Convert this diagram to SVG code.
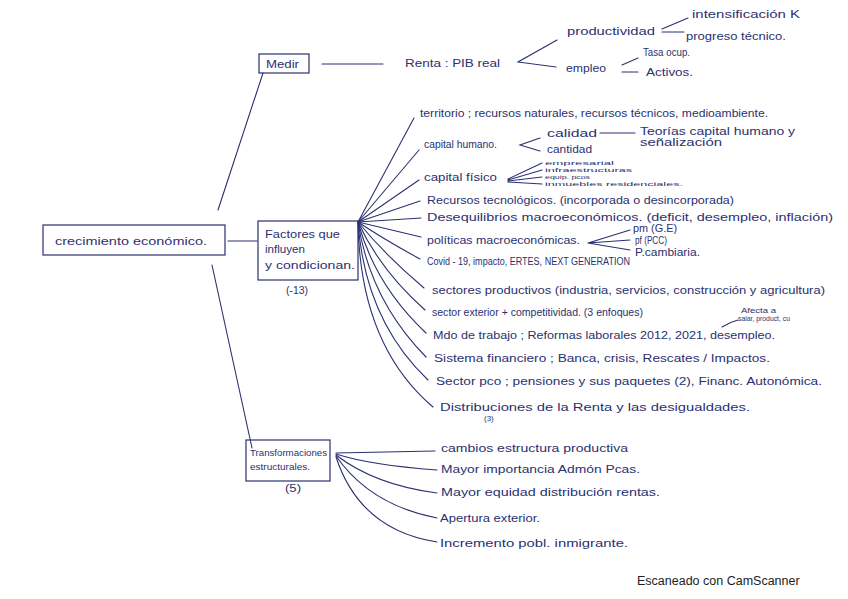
<svg xmlns="http://www.w3.org/2000/svg" width="848" height="599" viewBox="0 0 848 599">
<style>
.t{font-family:"Liberation Sans",Arial,sans-serif;font-size:10px;fill:#2b3170}
.s{font-family:"Liberation Sans",Arial,sans-serif;font-size:6.2px;fill:#2b3170}
.b{fill:none;stroke:#2b3170;stroke-width:1.2}
.c{fill:none;stroke:#2b3170;stroke-width:1.1;stroke-linecap:round}
.cs{font-family:"Liberation Sans",Arial,sans-serif;font-size:12.5px;fill:#222}
</style>
<rect width="848" height="599" fill="#fff"/>

<g id="connectors">
  <path class="c" d="M322,64 L383,64"/>
  <path class="c" d="M557,40 L518,62 L556,67"/>
  <path class="c" d="M688,18 L662,29 M662,32 L684,32"/>
  <path class="c" d="M622,65 L638,58 M622,72 L638,72"/>
  <path class="c" d="M263,73 L218,210"/>
  <path class="c" d="M212,265 L252,448"/>
  <path class="c" d="M228,241 L257,241"/>
  <path class="c" d="M358,222 L414,118"/>
  <path class="c" d="M358,222 L419,150"/>
  <path class="c" d="M358,222 L419,180"/>
  <path class="c" d="M358,222 L420,201"/>
  <path class="c" d="M358,222 L421,218"/>
  <path class="c" d="M358,222 L421,237"/>
  <path class="c" d="M358,222 Q385,240 420,259"/>
  <path class="c" d="M358,222 Q385,255 424,288"/>
  <path class="c" d="M358,222 Q380,270 425,310"/>
  <path class="c" d="M358,222 Q375,285 426,333"/>
  <path class="c" d="M358,222 Q370,300 426,357"/>
  <path class="c" d="M358,222 Q365,320 428,380"/>
  <path class="c" d="M358,222 Q360,345 433,407"/>
  <path class="c" d="M540,138 L520,145 L540,151"/>
  <path class="c" d="M600,133 L635,133"/>
  <path class="c" d="M542,163 L508,179 M542,170 L508,180 M542,177 L508,181 M542,184 L508,182"/>
  <path class="c" d="M630,230 L588,243 M630,240 L588,243 M630,250 L588,243"/>
  <path class="c" d="M722,327 Q730,322 738,320"/>
  <path class="c" d="M336,453 L435,451"/>
  <path class="c" d="M336,454 Q370,465 437,470"/>
  <path class="c" d="M336,455 Q375,485 437,493"/>
  <path class="c" d="M336,456 Q370,505 437,518"/>
  <path class="c" d="M336,457 Q360,530 437,542"/>
</g>

<g id="medir">
  <rect class="b" x="259" y="54" width="50" height="19"/>
  <text class="t" x="266" y="68" textLength="33" lengthAdjust="spacingAndGlyphs">Medir</text>
</g>
<g id="renta">
  <text class="t" x="405" y="67" textLength="95" lengthAdjust="spacingAndGlyphs">Renta : PIB real</text>
</g>
<g id="productividad">
  <text class="t" x="567" y="35" textLength="88" lengthAdjust="spacingAndGlyphs">productividad</text>
  <text class="t" x="692" y="18" textLength="108" lengthAdjust="spacingAndGlyphs">intensificación K</text>
  <text class="t" x="686" y="40" textLength="100" lengthAdjust="spacingAndGlyphs">progreso técnico.</text>
</g>
<g id="empleo">
  <text class="t" x="566" y="72" textLength="40" lengthAdjust="spacingAndGlyphs">empleo</text>
  <text class="t" x="643" y="56" textLength="47" lengthAdjust="spacingAndGlyphs">Tasa ocup.</text>
  <text class="t" x="646" y="76" textLength="47" lengthAdjust="spacingAndGlyphs">Activos.</text>
</g>

<g id="crecimiento">
  <rect class="b" x="43" y="225" width="182" height="30"/>
  <text class="t" x="55" y="245" style="font-size:11px" textLength="152" lengthAdjust="spacingAndGlyphs">crecimiento económico.</text>
</g>

<g id="factores">
  <rect class="b" x="258" y="221" width="100" height="59"/>
  <text class="t" x="265" y="238" textLength="75" lengthAdjust="spacingAndGlyphs">Factores que</text>
  <text class="t" x="265" y="253" textLength="40" lengthAdjust="spacingAndGlyphs">influyen</text>
  <text class="t" x="265" y="269" textLength="90" lengthAdjust="spacingAndGlyphs">y condicionan.</text>
  <text class="t" x="286" y="294" textLength="22" lengthAdjust="spacingAndGlyphs">(-13)</text>
</g>

<g id="f1"><text class="t" x="420" y="117" textLength="348" lengthAdjust="spacingAndGlyphs">territorio ; recursos naturales, recursos técnicos, medioambiente.</text></g>
<g id="f2">
  <text class="t" x="424" y="148" textLength="73" lengthAdjust="spacingAndGlyphs">capital humano.</text>
  <text class="t" x="547" y="137" textLength="50" lengthAdjust="spacingAndGlyphs">calidad</text>
  <text class="t" x="547" y="153" textLength="45" lengthAdjust="spacingAndGlyphs">cantidad</text>
  <text class="t" x="640" y="135" textLength="155" lengthAdjust="spacingAndGlyphs">Teorías capital humano y</text>
  <text class="t" x="640" y="146" textLength="82" lengthAdjust="spacingAndGlyphs">señalización</text>
</g>
<g id="f3">
  <text class="t" x="424" y="181" textLength="73" lengthAdjust="spacingAndGlyphs">capital físico</text>
  <text class="s" x="545" y="165" textLength="69" lengthAdjust="spacingAndGlyphs">empresarial</text>
  <text class="s" x="545" y="172" textLength="87" lengthAdjust="spacingAndGlyphs">infraestructuras</text>
  <text class="s" x="545" y="179" textLength="45" lengthAdjust="spacingAndGlyphs">equip. pcos</text>
  <text class="s" x="545" y="186" textLength="138" lengthAdjust="spacingAndGlyphs">inmuebles residenciales.</text>
</g>
<g id="f4"><text class="t" x="427" y="204" textLength="307" lengthAdjust="spacingAndGlyphs">Recursos tecnológicos. (incorporada o desincorporada)</text></g>
<g id="f5"><text class="t" x="427" y="221" textLength="406" lengthAdjust="spacingAndGlyphs">Desequilibrios macroeconómicos. (deficit, desempleo, inflación)</text></g>
<g id="f6">
  <text class="t" x="427" y="244" textLength="153" lengthAdjust="spacingAndGlyphs">políticas macroeconómicas.</text>
  <text class="t" x="633" y="232" textLength="44" lengthAdjust="spacingAndGlyphs">pm (G.E)</text>
  <text class="t" x="635" y="244" textLength="32" lengthAdjust="spacingAndGlyphs">pf (PCC)</text>
  <text class="t" x="635" y="256" textLength="65" lengthAdjust="spacingAndGlyphs">P.cambiaria.</text>
</g>
<g id="f7"><text class="t" x="427" y="265" textLength="203" lengthAdjust="spacingAndGlyphs">Covid - 19, impacto, ERTES, NEXT GENERATION</text></g>
<g id="f8"><text class="t" x="432" y="294" textLength="393" lengthAdjust="spacingAndGlyphs">sectores productivos (industria, servicios, construcción y agricultura)</text></g>
<g id="f9">
  <text class="t" x="432" y="316" textLength="211" lengthAdjust="spacingAndGlyphs">sector exterior + competitividad. (3 enfoques)</text>
  <text class="s" x="741" y="313" style="font-size:7px" textLength="35" lengthAdjust="spacingAndGlyphs">Afecta a</text>
  <text class="s" x="738" y="321" style="font-size:7px" textLength="52" lengthAdjust="spacingAndGlyphs">salar, product, cu</text>
</g>
<g id="f10"><text class="t" x="433" y="339" textLength="342" lengthAdjust="spacingAndGlyphs">Mdo de trabajo ; Reformas laborales 2012, 2021, desempleo.</text></g>
<g id="f11"><text class="t" x="434" y="362" textLength="336" lengthAdjust="spacingAndGlyphs">Sistema financiero ; Banca, crisis, Rescates / Impactos.</text></g>
<g id="f12"><text class="t" x="436" y="385" textLength="386" lengthAdjust="spacingAndGlyphs">Sector pco ; pensiones y sus paquetes (2), Financ. Autonómica.</text></g>
<g id="f13">
  <text class="t" x="440" y="411" textLength="310" lengthAdjust="spacingAndGlyphs">Distribuciones de la Renta y las desigualdades.</text>
  <text class="s" x="484" y="421" style="font-size:8px">(3)</text>
</g>

<g id="transformaciones">
  <rect class="b" x="246" y="440" width="84" height="41"/>
  <text class="t" x="250" y="456" style="font-size:9px" textLength="77" lengthAdjust="spacingAndGlyphs">Transformaciones</text>
  <text class="t" x="250" y="470" style="font-size:9px" textLength="60" lengthAdjust="spacingAndGlyphs">estructurales.</text>
  <text class="t" x="285" y="492" textLength="16" lengthAdjust="spacingAndGlyphs">(5)</text>
</g>
<g id="t1"><text class="t" x="441" y="452" textLength="187" lengthAdjust="spacingAndGlyphs">cambios estructura productiva</text></g>
<g id="t2"><text class="t" x="441" y="473" textLength="199" lengthAdjust="spacingAndGlyphs">Mayor importancia Admón Pcas.</text></g>
<g id="t3"><text class="t" x="441" y="496" textLength="219" lengthAdjust="spacingAndGlyphs">Mayor equidad distribución rentas.</text></g>
<g id="t4"><text class="t" x="440" y="522" textLength="100" lengthAdjust="spacingAndGlyphs">Apertura exterior.</text></g>
<g id="t5"><text class="t" x="440" y="547" textLength="188" lengthAdjust="spacingAndGlyphs">Incremento pobl. inmigrante.</text></g>

<text class="cs" x="637" y="585">Escaneado con CamScanner</text>
</svg>
